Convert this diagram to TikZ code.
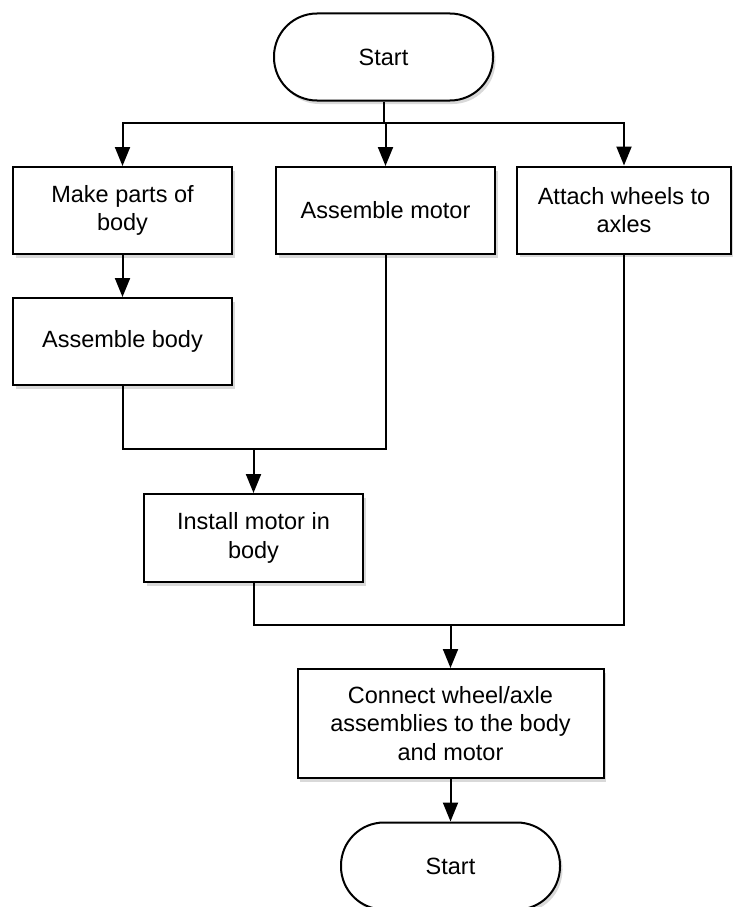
\documentclass[tikz,border=0pt]{standalone}
\usepackage{fontspec}
\setmainfont{Liberation Sans}
\usetikzlibrary{arrows.meta,shadows}
\tikzset{
  base/.style={draw=black, line width=2pt, fill=white, align=center,
    inner sep=0pt, font=\fontsize{23.5}{28.5}\selectfont,
    drop shadow={shadow xshift=2.5pt, shadow yshift=-3.5pt, opacity=0.3, fill=gray}},
  terminal/.style={base, rectangle, rounded corners=43pt,
    minimum width=219pt, minimum height=87pt},
  process/.style={base, rectangle, minimum width=219pt, minimum height=87pt},
  flow/.style={line width=2pt, draw=black},
  arr/.style={flow, -{Triangle[length=19pt,width=15pt]}}
}
\begin{document}
\begin{tikzpicture}[x=1pt,y=-1pt]
\useasboundingbox (0,0) rectangle (732,907);

% steps
\node[terminal] (start) at (383.5,57) {Start};
\node[process] (parts) at (122.5,210.5) {Make parts of\\body};
\node[process] (motor) at (385.5,210.5) {Assemble motor};
\node[process, minimum width=214pt] (wheels) at (624,210) {Attach wheels to\\axles};
\node[process] (body) at (122.5,341.5) {Assemble body};
\node[process, minimum height=88pt] (install) at (253.5,538) {Install motor in\\body};
\node[process, minimum width=306pt, minimum height=109pt] (connect) at (450.5,723.5)
  {Connect wheel/axle\\assemblies to the body\\and motor};
\node[terminal] (finish) at (450.5,866) {Start};

% junction points
\coordinate (split) at (start.south |- 0,123);
\coordinate (merge1) at (install.north |- 0,449);
\coordinate (merge2) at (connect.north |- 0,625);

% connectors
\draw[flow] (start.south) -- (split);
\draw[arr] (split) -| (parts.north);
\draw[arr] (split) -| (wheels.north);
\draw[arr] (split) -- (split -| motor.north) -- (motor.north);
\draw[arr] (parts) -- (body);
\draw[flow] (body.south) |- (merge1);
\draw[flow] (motor.south) |- (merge1);
\draw[arr] (merge1) -- (install.north);
\draw[flow] (install.south) |- (merge2);
\draw[flow] (wheels.south) |- (merge2);
\draw[arr] (merge2) -- (connect.north);
\draw[arr] (connect) -- (finish);
\end{tikzpicture}
\end{document}
